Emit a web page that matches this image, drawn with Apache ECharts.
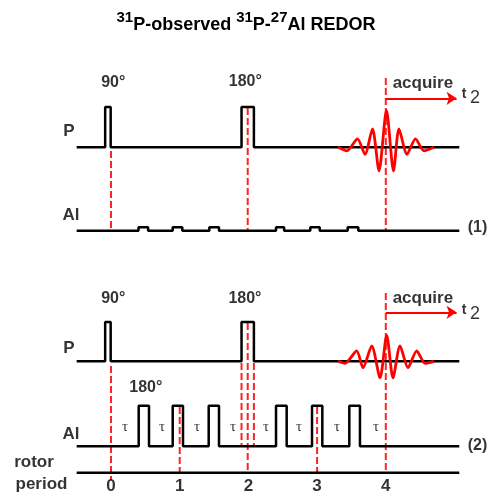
<!DOCTYPE html>
<html><head><meta charset="utf-8">
<script src="https://cdn.jsdelivr.net/npm/echarts@6/dist/echarts.min.js"></script>
<style>html,body{margin:0;padding:0;background:#fff}#c{width:492px;height:497px}</style>
</head><body><div id="c"></div>
<script>
// ---- timing data (x in rotor periods) ----
const rotorTicks = [0, 1, 2, 3, 4];
const traceSpan = [-0.50, 5.07];
const pPulsesTop = [[-0.085, -0.005], [1.90, 2.08]];
const alPulsesTop = [[0.40, 0.54], [0.898, 1.038], [1.431, 1.572], [2.402, 2.52], [2.901, 3.038], [3.445, 3.60]];
const pPulsesBot = [[-0.085, -0.005], [1.90, 2.08]];
const alPulsesBot = [[0.403, 0.553], [0.898, 1.048], [1.422, 1.572], [2.402, 2.557], [2.926, 3.076], [3.469, 3.624]];
const fidTopT = [3.304, 3.435, 3.588, 3.697, 3.806, 3.901, 4.010, 4.112, 4.192, 4.309, 4.432, 4.556, 4.702];
const fidTopAmp = [0, -3.5, 8.5, -7, 18.5, -23.5, 37, -23.5, 18.5, -7, 8.5, -3.5, 0];
const fidBotT = [3.304, 3.406, 3.576, 3.668, 3.795, 3.916, 4.013, 4.105, 4.207, 4.323, 4.450, 4.571, 4.702];
const fidBotAmp = [0, -2, 10.5, -6.5, 15.5, -16.5, 26, -16.5, 15.5, -6.5, 10.5, -2, 0];
const tauTimes = [0.204, 0.742, 1.252, 1.776, 2.256, 2.737, 3.290, 3.857];
const acquireStart = 4.0, acquireEnd = 5.03;

// ---- layout levels (vertical diagram units) ----
const L = {
  pTop: {base: 147.3, top: 107}, alTop: {base: 230.7, top: 227.3},
  pBot: {base: 361.3, top: 322}, alBot: {base: 446.3, top: 405.7},
  rotor: 472.7, arrowTop: 98.3, arrowBot: 312.3
};

function trace(pulses, lvl) {
  const d = [[traceSpan[0], lvl.base]];
  pulses.forEach(([a, b]) => { d.push([a, lvl.base], [a, lvl.top], [b, lvl.top], [b, lvl.base]); });
  d.push([traceSpan[1], lvl.base]);
  return d;
}
function blackLine(data) {
  return {type: 'line', data, showSymbol: false, symbol: 'none', silent: true, z: 5,
    lineStyle: {color: '#000', width: 2.5}, animation: false};
}
function dashed(t, y0, y1) {
  return {type: 'line', data: [[t, y0], [t, y1]], showSymbol: false, symbol: 'none', silent: true, z: 3,
    lineStyle: {color: '#f22', width: 2, type: [7, 3]}, animation: false};
}
function fid(ts, amps, base) {
  return {type: 'line', data: ts.map((t, i) => [t, base - amps[i]]), showSymbol: false, symbol: 'none',
    smooth: 0.25, silent: true, z: 6, lineStyle: {color: '#f00', width: 2.8}, animation: false};
}
function arrow(y) {
  return {type: 'line', data: [], silent: true, animation: false, z: 6,
    markLine: {silent: true, animation: false, symbol: ['none', 'arrow'], symbolSize: 10,
      label: {show: false}, lineStyle: {color: '#f00', width: 2, type: 'solid'},
      data: [[{coord: [acquireStart, y]}, {coord: [acquireEnd, y]}]]}};
}
const F = "'Liberation Sans', Arial, sans-serif";
function txt(t, y, s, size, extra) {
  return {value: [t, y], label: Object.assign({formatter: s, fontSize: size || 16, fontWeight: 'bold', fontFamily: F, color: '#000'}, extra || {})};
}
const annotations = [
  txt(0.033, 82.5, '90°'), txt(1.955, 82, '180°'),
  txt(0.033, 298.5, '90°'), txt(1.95, 298.5, '180°'), txt(0.507, 387.5, '180°'),
  txt(-0.611, 131, 'P', 17), txt(-0.611, 348.3, 'P', 17),
  txt(-0.582, 215.5, 'Al', 17), txt(-0.582, 434, 'Al', 17),
  txt(5.335, 227.5, '(1)'), txt(5.335, 446, '(2)'),
  txt(4.54, 83, 'acquire', 17), txt(4.54, 298.5, 'acquire', 17),
  txt(5.141, 94, 't', 14), txt(5.141, 310.5, 't', 14),
  txt(5.30, 98, '2', 18, {fontWeight: 'normal'}), txt(5.30, 314.5, '2', 18, {fontWeight: 'normal'}),
  txt(-1.121, 462.5, 'rotor', 17), txt(-1.012, 484, 'period', 17)
];
rotorTicks.forEach(t => annotations.push(txt(t, 486.5, String(t), 17)));
tauTimes.forEach(t => annotations.push(txt(t, 426.7, 'τ', 15, {fontWeight: 'normal', fontFamily: "'Liberation Serif', serif"})));

const series = [
  blackLine(trace(pPulsesTop, L.pTop)),
  blackLine(trace(alPulsesTop, L.alTop)),
  blackLine(trace(pPulsesBot, L.pBot)),
  blackLine(trace(alPulsesBot, L.alBot)),
  blackLine([[traceSpan[0], L.rotor], [traceSpan[1], L.rotor]]),
  dashed(rotorTicks[0], 151, L.alTop.base), dashed(1.99, 108, L.alTop.base), dashed(rotorTicks[4], 78, L.alTop.base),
  dashed(rotorTicks[0], 366, 480), dashed(rotorTicks[1], 407, 477),
  dashed(pPulsesBot[1][0], 363, L.alBot.base), dashed(1.99, 323, L.rotor), dashed(pPulsesBot[1][1], 363, L.alBot.base),
  dashed(rotorTicks[3], 407, L.rotor), dashed(rotorTicks[4], 293, L.rotor),
  fid(fidTopT, fidTopAmp, L.pTop.base),
  fid(fidBotT, fidBotAmp, L.pBot.base),
  arrow(L.arrowTop), arrow(L.arrowBot),
  {type: 'scatter', data: annotations, symbolSize: 0, silent: true, z: 10, animation: false,
    label: {show: true, position: 'inside', align: 'center', verticalAlign: 'middle'}}
];

const chart = echarts.init(document.getElementById('c'), null, {renderer: 'canvas'});
chart.setOption({
  backgroundColor: '#fff',
  animation: false,
  title: {
    left: 'center', top: 11,
    text: '{s|31}{n|P-observed }{s|31}{n|P-}{s|27}{n|Al REDOR}',
    textStyle: {rich: {
      s: {fontSize: 15, fontWeight: 'bold', fontFamily: F, color: '#000', lineHeight: 15, padding: [0, 0, 14, 0]},
      n: {fontSize: 18, fontWeight: 'bold', fontFamily: F, color: '#000', lineHeight: 18}
    }}
  },
  grid: {left: 0, right: 0, top: 0, bottom: 0},
  xAxis: {type: 'value', min: -1.616, max: 5.546, show: false},
  yAxis: {type: 'value', min: 0, max: 497, inverse: true, show: false},
  series
});
</script></body></html>
